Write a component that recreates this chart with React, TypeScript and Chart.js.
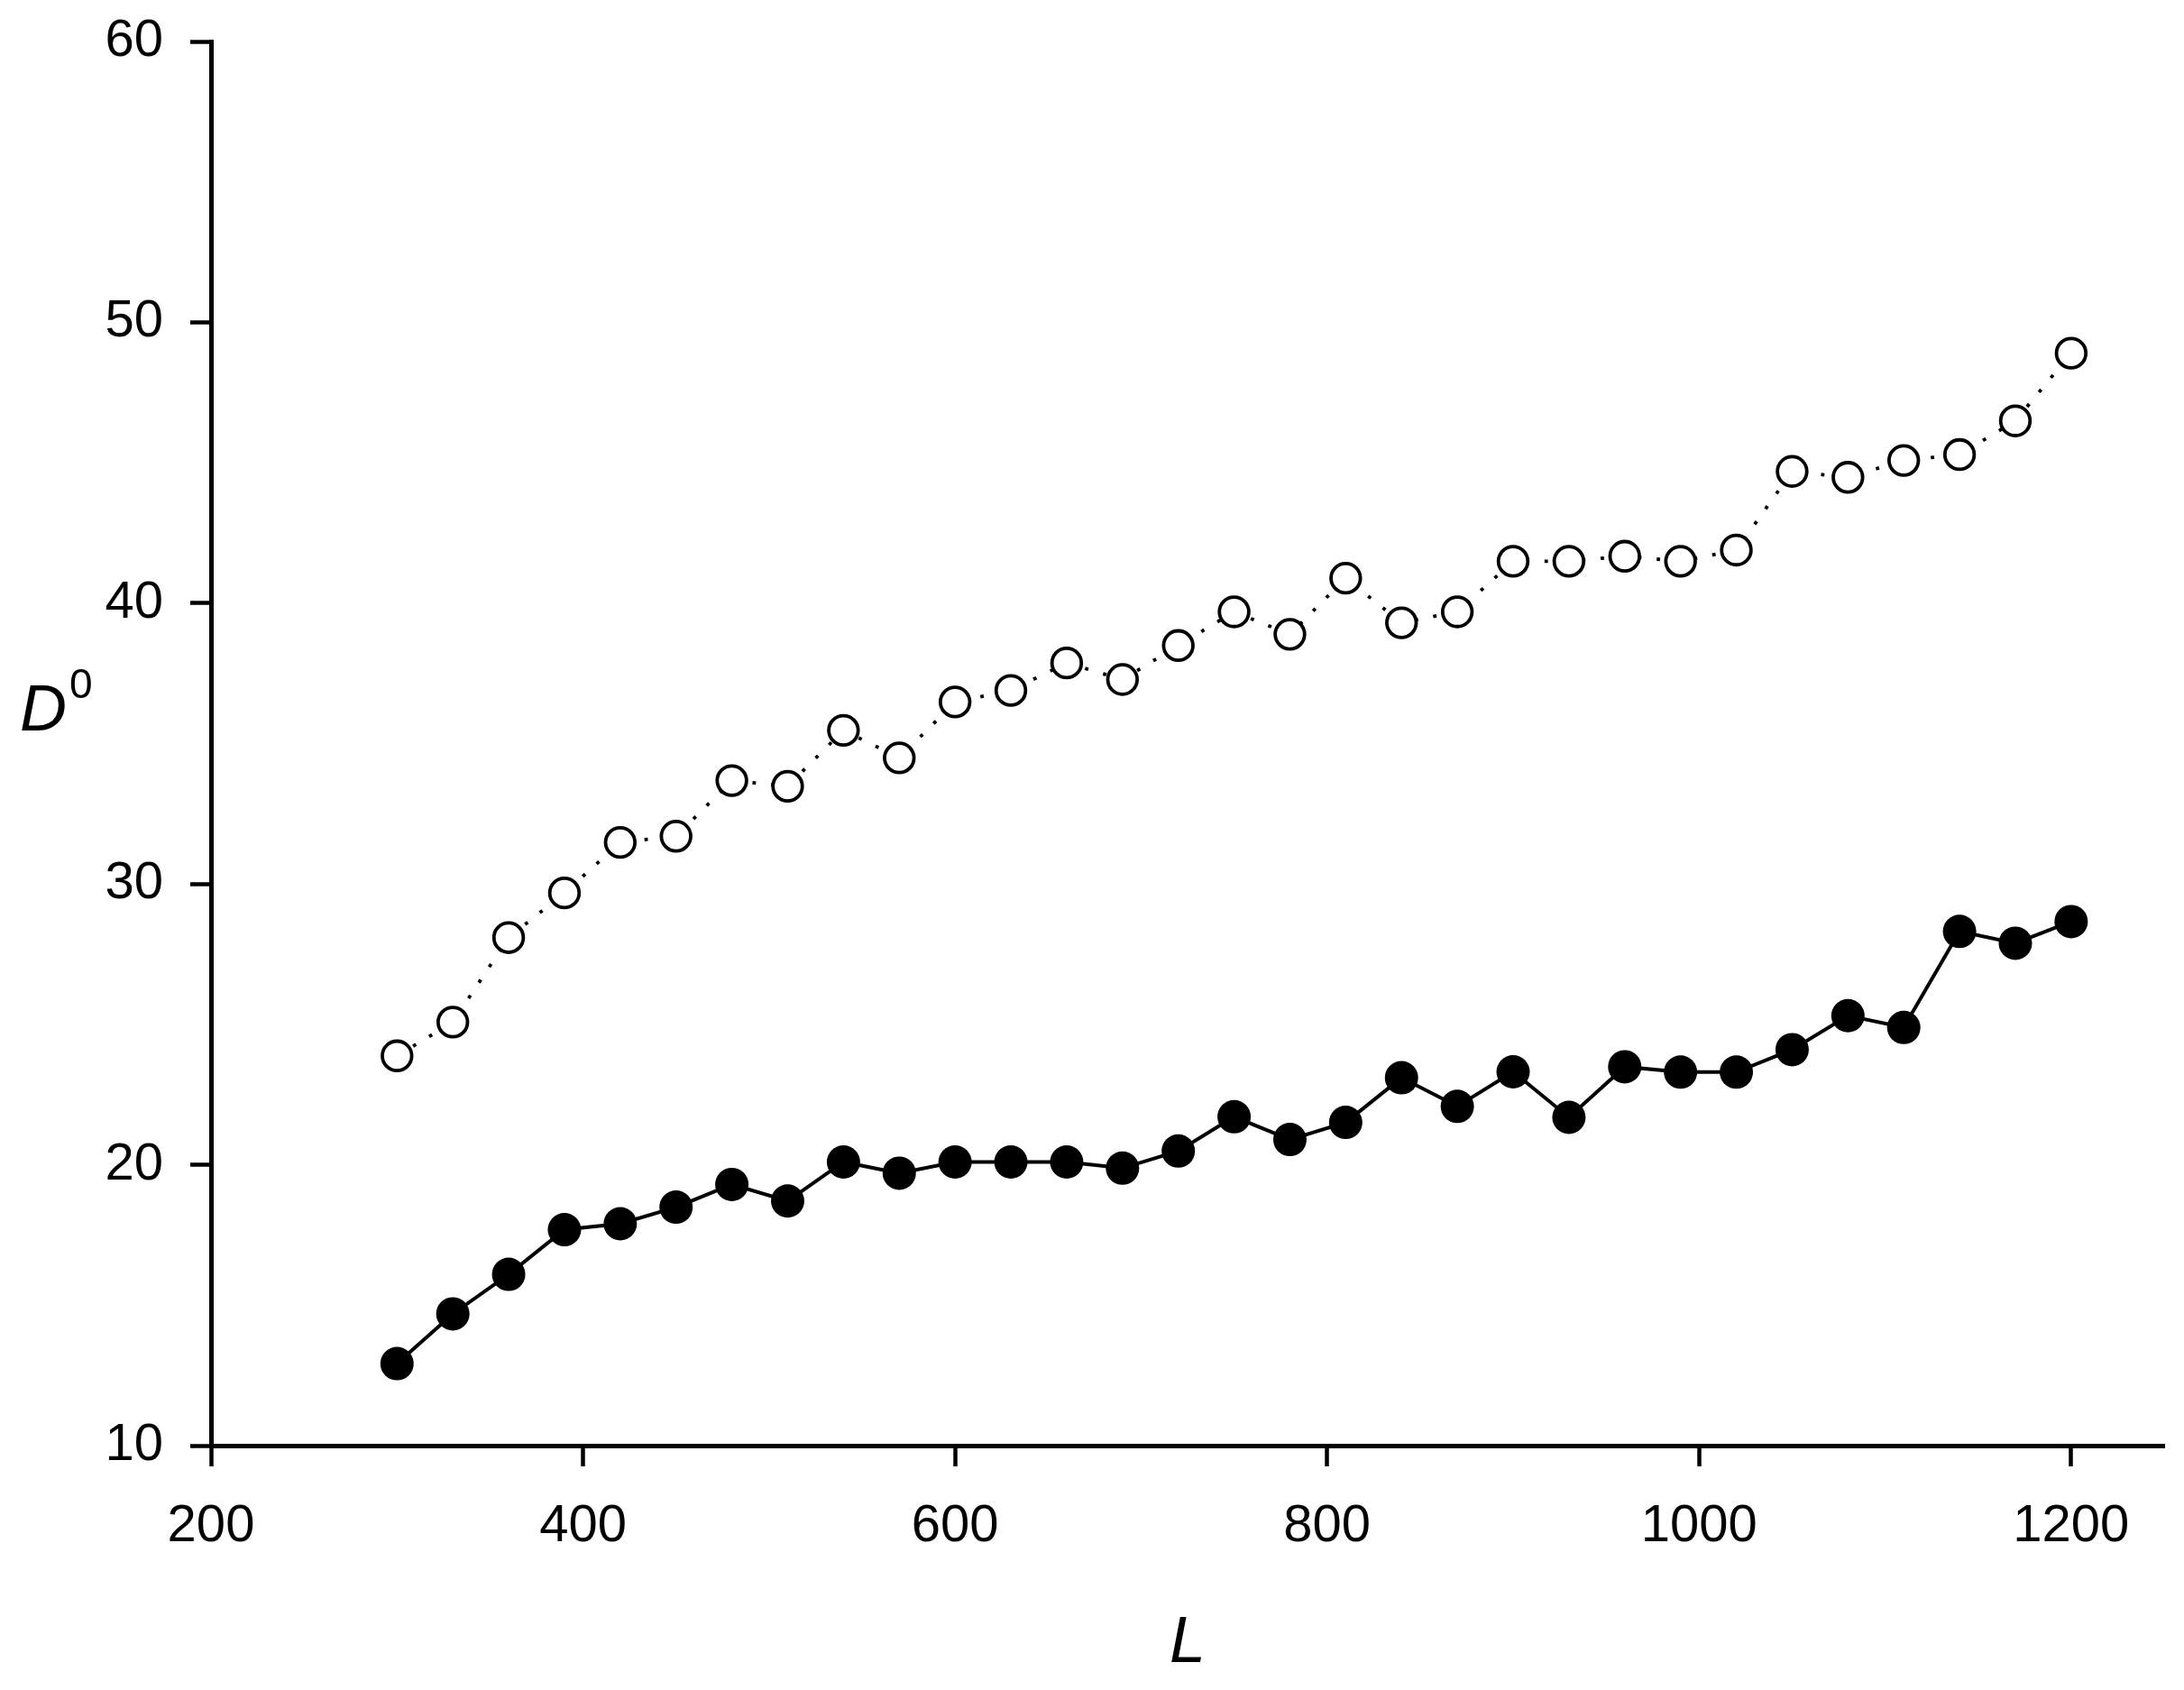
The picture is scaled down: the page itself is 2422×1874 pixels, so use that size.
import React, { useEffect, useRef } from "react";
import { Chart, registerables } from "chart.js";

Chart.register(...registerables);

const lengths = [
  300, 330, 360, 390, 420, 450, 480, 510, 540, 570, 600, 630, 660, 690, 720, 750,
  780, 810, 840, 870, 900, 930, 960, 990, 1020, 1050, 1080, 1110, 1140, 1170, 1200,
];

const openValues = [
  23.88, 25.08, 28.09, 29.68, 31.48, 31.7, 33.68, 33.48, 35.47, 34.49, 36.48, 36.89,
  37.87, 37.28, 38.49, 39.69, 38.89, 40.89, 39.3, 39.69, 41.49, 41.49, 41.67, 41.49,
  41.89, 44.69, 44.48, 45.08, 45.29, 46.49, 48.9,
];

const filledValues = [
  12.92, 14.69, 16.1, 17.69, 17.9, 18.49, 19.3, 18.71, 20.1, 19.7, 20.1, 20.1, 20.1,
  19.88, 20.49, 21.71, 20.9, 21.51, 23.1, 22.08, 23.31, 21.69, 23.49, 23.3, 23.3,
  24.1, 25.31, 24.89, 28.31, 27.89, 28.66,
];

const xTicks = [200, 400, 600, 800, 1000, 1200];
const yTicks = [10, 20, 30, 40, 50, 60];

const xTitle = "L";
const yTitleMain = "D";
const yTitleSup = "0";

const FONT = '"Liberation Sans", Arial, Helvetica, sans-serif';

const axisTitlesPlugin = {
  id: "axisTitles",
  afterDraw(chart: any) {
    const { ctx, chartArea } = chart;
    ctx.save();
    ctx.fillStyle = "#000";
    ctx.textBaseline = "alphabetic";
    // y-axis title D^0 (horizontal)
    ctx.textAlign = "left";
    ctx.font = `italic 72px ${FONT}`;
    const dx = chartArea.left - 212;
    const dy = chartArea.top + 764;
    ctx.fillText(yTitleMain, dx, dy);
    const dw = ctx.measureText(yTitleMain).width;
    ctx.font = `46px ${FONT}`;
    ctx.fillText(yTitleSup, dx + dw + 3, dy - 36);
    // x-axis title L
    ctx.textAlign = "center";
    ctx.font = `italic 72px ${FONT}`;
    ctx.fillText(xTitle, (chartArea.left + chartArea.right) / 2, chartArea.bottom + 240);
    ctx.restore();
  },
};

export default function App() {
  const canvasRef = useRef<HTMLCanvasElement | null>(null);

  useEffect(() => {
    const canvas = canvasRef.current;
    if (!canvas) return;
    const chart = new Chart(canvas, {
      type: "line",
      data: {
        datasets: [
          {
            label: "open",
            data: lengths.map((x, i) => ({ x, y: openValues[i] })),
            borderColor: "#000",
            borderWidth: 3.8,
            borderDash: [3.8, 17],
            backgroundColor: "#fff",
            pointRadius: 16.3,
            pointBorderWidth: 3.8,
            pointBackgroundColor: "#fff",
            pointBorderColor: "#000",
            pointStyle: "circle",
            tension: 0,
            fill: false,
          },
          {
            label: "filled",
            data: lengths.map((x, i) => ({ x, y: filledValues[i] })),
            borderColor: "#000",
            borderWidth: 4,
            backgroundColor: "#000",
            pointRadius: 18.5,
            pointBorderWidth: 0,
            pointBackgroundColor: "#000",
            pointBorderColor: "#000",
            pointStyle: "circle",
            tension: 0,
            fill: false,
          },
        ],
      },
      options: {
        responsive: false,
        animation: false,
        devicePixelRatio: 1,
        clip: false as any,
        layout: { padding: { top: 46, right: 22, left: 0, bottom: 0 } },
        plugins: {
          legend: { display: false },
          tooltip: { enabled: false },
          title: { display: false },
        },
        scales: {
          x: {
            type: "linear",
            min: 200,
            max: 1250,
            afterFit(scale: any) {
              scale.height = 271;
              scale.paddingLeft = 0;
              scale.paddingRight = 0;
            },
            afterBuildTicks(scale: any) {
              scale.ticks = xTicks.map((v) => ({ value: v }));
            },
            border: { display: true, color: "#000", width: 5 },
            grid: {
              display: true,
              drawOnChartArea: false,
              drawTicks: true,
              tickLength: 23,
              tickWidth: 4.5,
              tickColor: "#000",
            },
            ticks: {
              color: "#000",
              padding: 32,
              maxRotation: 0,
              font: { family: FONT, size: 58 },
              callback: (v: any) => String(v),
            },
          },
          y: {
            type: "linear",
            min: 10,
            max: 60,
            afterFit(scale: any) {
              scale.width = 234;
              scale.paddingTop = 0;
              scale.paddingBottom = 0;
            },
            afterBuildTicks(scale: any) {
              scale.ticks = yTicks.map((v) => ({ value: v }));
            },
            border: { display: true, color: "#000", width: 5 },
            grid: {
              display: true,
              drawOnChartArea: false,
              drawTicks: true,
              tickLength: 23,
              tickWidth: 4.5,
              tickColor: "#000",
            },
            ticks: {
              color: "#000",
              padding: 30,
              font: { family: FONT, size: 58 },
              callback: (v: any) => String(v),
            },
          },
        },
      },
      plugins: [axisTitlesPlugin],
    });
    return () => chart.destroy();
  }, []);

  return (
    <div
      style={{
        position: "fixed",
        left: 0,
        top: 0,
        width: 2422,
        height: 1874,
        background: "#fff",
      }}
    >
      <canvas ref={canvasRef} width={2422} height={1874} style={{ display: "block" }} />
    </div>
  );
}
